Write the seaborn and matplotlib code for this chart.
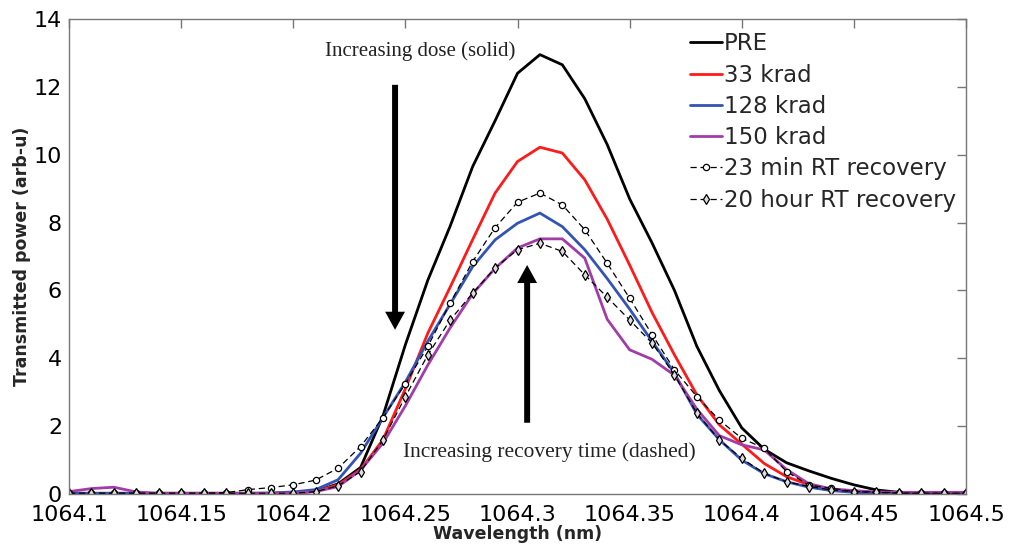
import numpy as np
import pandas as pd
import matplotlib
matplotlib.use("Agg")
import matplotlib.pyplot as plt
import seaborn as sns

# ---- data ----
wavelength = [1064.10, 1064.11, 1064.12, 1064.13, 1064.14, 1064.15, 1064.16, 1064.17, 1064.18, 1064.19,
              1064.20, 1064.21, 1064.22, 1064.23, 1064.24, 1064.25, 1064.26, 1064.27, 1064.28, 1064.29,
              1064.30, 1064.31, 1064.32, 1064.33, 1064.34, 1064.35, 1064.36, 1064.37, 1064.38, 1064.39,
              1064.40, 1064.41, 1064.42, 1064.43, 1064.44, 1064.45, 1064.46, 1064.47, 1064.48, 1064.49,
              1064.50]

pre = [0.02, 0.02, 0.02, 0.02, 0.02, 0.02, 0.02, 0.02, 0.02, 0.02,
       0.03, 0.08, 0.30, 0.78, 2.30, 4.40, 6.30, 7.90, 9.65, 11.00,
       12.40, 12.95, 12.65, 11.65, 10.30, 8.70, 7.40, 6.00, 4.35, 3.05,
       1.95, 1.32, 0.92, 0.68, 0.46, 0.27, 0.12, 0.05, 0.03, 0.02,
       0.02]

krad33 = [0.02, 0.02, 0.02, 0.02, 0.02, 0.02, 0.02, 0.02, 0.02, 0.02,
          0.03, 0.08, 0.27, 0.72, 1.60, 3.10, 4.74, 6.10, 7.50, 8.87,
          9.80, 10.22, 10.05, 9.26, 8.10, 6.75, 5.35, 4.10, 2.92, 2.04,
          1.47, 0.90, 0.51, 0.27, 0.12, 0.06, 0.04, 0.03, 0.03, 0.03,
          0.03]

krad128 = [0.02, 0.02, 0.02, 0.02, 0.02, 0.02, 0.02, 0.02, 0.02, 0.03,
           0.06, 0.13, 0.42, 1.20, 2.25, 3.30, 4.50, 5.60, 6.70, 7.49,
           7.98, 8.28, 7.88, 7.20, 6.35, 5.45, 4.50, 3.56, 2.35, 1.60,
           1.00, 0.60, 0.36, 0.20, 0.10, 0.05, 0.02, 0.02, 0.02, 0.02,
           0.02]

krad150 = [0.07, 0.16, 0.20, 0.06, 0.02, 0.02, 0.02, 0.02, 0.02, 0.02,
           0.03, 0.07, 0.22, 0.70, 1.50, 2.60, 3.80, 4.90, 5.90, 6.65,
           7.25, 7.52, 7.52, 6.95, 5.15, 4.25, 3.97, 3.50, 2.50, 1.72,
           1.45, 1.30, 0.72, 0.30, 0.15, 0.10, 0.06, 0.05, 0.05, 0.05,
           0.05]

rec23min = [0.02, 0.02, 0.02, 0.02, 0.02, 0.02, 0.02, 0.04, 0.13, 0.19,
            0.27, 0.41, 0.76, 1.40, 2.25, 3.25, 4.35, 5.63, 6.85, 7.85,
            8.60, 8.87, 8.52, 7.79, 6.80, 5.77, 4.70, 3.66, 2.87, 2.18,
            1.64, 1.35, 0.66, 0.26, 0.17, 0.07, 0.06, 0.03, 0.02, 0.02,
            0.02]

rec20h = [0.02, 0.02, 0.02, 0.02, 0.02, 0.02, 0.02, 0.02, 0.02, 0.02,
          0.02, 0.07, 0.24, 0.66, 1.59, 2.87, 4.10, 5.13, 5.92, 6.66,
          7.20, 7.39, 7.15, 6.46, 5.80, 5.13, 4.45, 3.51, 2.38, 1.59,
          1.05, 0.61, 0.36, 0.22, 0.12, 0.07, 0.05, 0.02, 0.02, 0.02,
          0.02]

x_ticks = [1064.1, 1064.15, 1064.2, 1064.25, 1064.3, 1064.35, 1064.4, 1064.45, 1064.5]
x_tick_labels = ["1064.1", "1064.15", "1064.2", "1064.25", "1064.3", "1064.35", "1064.4", "1064.45", "1064.5"]
y_ticks = [0, 2, 4, 6, 8, 10, 12, 14]

# ---- style ----
sns.set_style("white")
plt.rcParams["font.family"] = ["DejaVu Sans"]

fig = plt.figure(figsize=(10.10, 5.48), dpi=100)
ax = fig.add_axes([69 / 1010, 1 - 494 / 548, (966 - 69) / 1010, (494 - 19) / 548])

solid = [("PRE", pre, "#000000"),
         ("33 krad", krad33, "#ff1a1a"),
         ("128 krad", krad128, "#3354b4"),
         ("150 krad", krad150, "#a23ca8")]
for lab, vals, col in solid:
    sns.lineplot(x=wavelength, y=vals, ax=ax, color=col, linewidth=2.0, label=lab)

sns.lineplot(x=wavelength, y=rec23min, ax=ax, color="black", linewidth=0.9,
             linestyle=(0, (5, 3)), marker="o", markersize=4.5, markerfacecolor="white",
             markeredgecolor="black", markeredgewidth=0.9, label="23 min RT recovery")
sns.lineplot(x=wavelength, y=rec20h, ax=ax, color="black", linewidth=0.9,
             linestyle=(0, (5, 3)), marker="d", markersize=5, markerfacecolor="#dddddd",
             markeredgecolor="black", markeredgewidth=0.9, label="20 hour RT recovery")

ax.set_xlim(1064.1, 1064.5)
ax.set_ylim(0, 14)
ax.set_xticks(x_ticks)
ax.set_xticklabels(x_tick_labels)
ax.set_yticks(y_ticks)
ax.tick_params(axis="both", which="both", direction="in", length=6.5, width=1,
               color="#777777", labelsize=16, labelcolor="black",
               top=True, right=True)
ax.tick_params(axis="x", pad=8)
ax.tick_params(axis="y", pad=5)
for s in ax.spines.values():
    s.set_color("#777777")
    s.set_linewidth(1.0)

ax.set_xlabel("Wavelength (nm)", fontsize=12.5, fontweight="bold", labelpad=0)
ax.set_ylabel("Transmitted power (arb-u)", fontsize=12.5, fontweight="bold", labelpad=2)

# annotations
ax.text(1064.2566, 13.04, "Increasing dose (solid)", family="Liberation Serif",
        fontsize=15, ha="center", va="center", color="#222222")
ax.text(1064.3141, 1.24, "Increasing recovery time (dashed)", family="Liberation Serif",
        fontsize=15.4, ha="center", va="center", color="#222222")

arrow_style = "simple,head_length=1.0,head_width=1.1,tail_width=0.33"
ax.annotate("", xy=(1064.2454, 4.84), xytext=(1064.2454, 12.06),
            arrowprops=dict(arrowstyle=arrow_style, mutation_scale=13, color="black",
                            shrinkA=0, shrinkB=0, lw=0))
ax.annotate("", xy=(1064.3043, 6.75), xytext=(1064.3043, 2.10),
            arrowprops=dict(arrowstyle=arrow_style, mutation_scale=13, color="black",
                            shrinkA=0, shrinkB=0, lw=0))

leg = ax.legend(loc="upper left", bbox_to_anchor=(0.692, 0.972), frameon=False,
                fontsize=16.5, handlelength=1.4, handletextpad=0.1, labelspacing=0.36,
                borderaxespad=0, borderpad=0)

fig.savefig("out.png", dpi=100)
